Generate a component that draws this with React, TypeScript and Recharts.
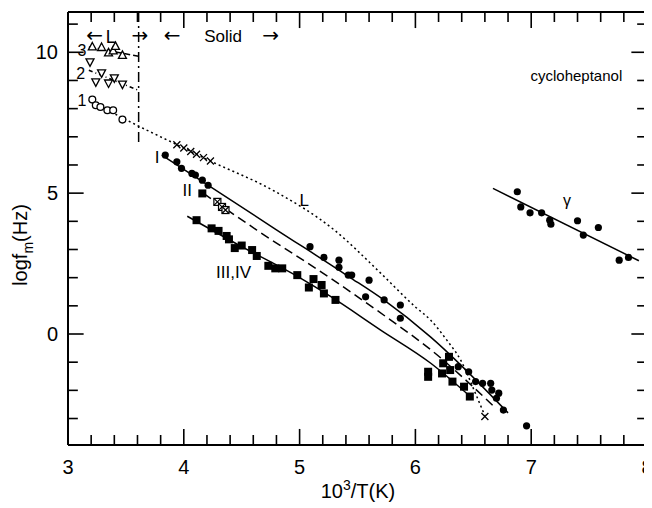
import React from 'react';
import {
  ComposedChart,
  XAxis,
  YAxis,
  Scatter,
  Line,
  ReferenceLine,
  ReferenceDot,
} from 'recharts';

const FONT = '"Liberation Sans", Arial, Helvetica, sans-serif';

// axis ticks (minor + major)
const xTicks = [3, 3.2, 3.4, 3.6, 3.8, 4, 4.2, 4.4, 4.6, 4.8, 5, 5.2, 5.4, 5.6, 5.8, 6, 6.2, 6.4, 6.6, 6.8, 7, 7.2, 7.4, 7.6, 7.8, 8];
const yTicks = [-3, -2, -1, 0, 1, 2, 3, 4, 5, 6, 7, 8, 9, 10, 11];

// liquid-side short series 1, 2, 3
const s3x = [3.21, 3.29, 3.35, 3.39, 3.41, 3.47];
const s3y = [10.19, 10.17, 9.98, 10.05, 10.21, 9.89];
const s2x = [3.19, 3.24, 3.29, 3.35, 3.4, 3.47];
const s2y = [9.66, 8.95, 9.27, 8.91, 9.09, 8.87];
const s1x = [3.21, 3.24, 3.28, 3.34, 3.39, 3.47];
const s1y = [8.32, 8.12, 8.06, 7.94, 7.94, 7.61];

// crosses on the L curve
const crossX = [3.94, 4.0, 4.06, 4.11, 4.17, 4.23, 6.6];
const crossY = [6.72, 6.6, 6.48, 6.38, 6.26, 6.14, -2.93];

// process I (filled circles)
const pIx = [3.84, 3.94, 3.98, 4.07, 4.1, 4.16, 4.21, 5.09, 5.21, 5.34, 5.34, 5.42, 5.45, 5.6, 5.57, 5.73, 5.87, 5.87,
  6.37, 6.46, 6.52, 6.58, 6.65, 6.66, 6.72, 6.7, 6.76, 6.96];
const pIy = [6.35, 6.11, 5.88, 5.7, 5.64, 5.46, 5.28, 3.1, 2.72, 2.62, 2.37, 2.09, 2.09, 1.91, 1.32, 1.21, 1.03, 0.56,
  -1.16, -1.34, -1.69, -1.75, -1.75, -1.99, -2.1, -2.28, -2.7, -3.26];

// process II
const pIIfx = [4.16];
const pIIfy = [4.99];
const pIIox = [4.29, 4.33, 4.36];
const pIIoy = [4.69, 4.51, 4.4];

// processes III, IV (filled squares)
const pIIIx = [4.11, 4.24, 4.3, 4.37, 4.39, 4.44, 4.5, 4.59, 4.63, 4.73, 4.79, 4.85, 4.98, 5.08, 5.12, 5.19, 5.21, 5.31,
  6.11, 6.11, 6.23, 6.24, 6.29, 6.3, 6.32, 6.42, 6.47];
const pIIIy = [4.04, 3.75, 3.66, 3.48, 3.36, 3.05, 3.14, 2.98, 2.77, 2.42, 2.33, 2.33, 2.09, 1.65, 1.95, 1.74, 1.44, 1.21,
  -1.34, -1.52, -1.4, -1.04, -0.81, -1.28, -1.69, -1.87, -2.22];

// gamma process
const gx = [6.88, 6.91, 6.99, 7.09, 7.16, 7.17, 7.4, 7.45, 7.58, 7.76, 7.84];
const gy = [5.05, 4.51, 4.3, 4.3, 4.04, 3.9, 4.02, 3.51, 3.78, 2.62, 2.72];

// fitted curves
const lineLx = [3.18, 3.6, 3.94, 4.23, 4.77, 5.3, 5.7, 6.0, 6.13, 6.27, 6.39, 6.53, 6.6];
const lineLy = [8.3, 7.4, 6.72, 6.14, 5.1, 3.69, 2.16, 0.96, 0.5, -0.21, -0.92, -2.22, -2.9];
const line1x = [3.81, 4.8, 5.42, 5.73, 6.13, 6.8];
const line1y = [6.35, 3.7, 2.05, 1.2, -0.1, -2.8];
const line2x = [4.17, 4.63, 5.26, 5.75, 6.13, 6.68];
const line2y = [4.99, 3.69, 2.0, 0.6, -0.55, -2.58];
const line34x = [4.03, 4.5, 5.0, 5.26, 5.7, 6.13, 6.49];
const line34y = [4.18, 3.1, 2.0, 1.35, 0.14, -1.03, -2.28];
const lineGx = [6.67, 7.93];
const lineGy = [5.17, 2.6];
const lineS3x = [3.18, 3.61];
const lineS3y = [10.19, 9.86];
const lineS2x = [3.18, 3.61];
const lineS2y = [9.36, 8.65];

const zip = (xs: number[], ys: number[]) => xs.map((x, i) => ({ x, y: ys[i] }));

const XMIN = 3;
const XMAX = 8;
const YMIN = -3.94;
const YMAX = 11.43;

const W = 644;
const H = 500;
const M = { top: 4, right: 5, bottom: 0, left: 0 };
const Y_W = 60;
const X_H = 63;
const PL = M.left + Y_W;
const PB = H - M.bottom - X_H;

// tick lengths in data units (approx 16px major / 10px minor)
const X_MAJ = 0.57;
const X_MIN = 0.355;
const Y_MAJ = 0.135;
const Y_MIN = 0.085;

const isMajor = (v: number) => Math.abs(v - Math.round(v)) < 1e-6;

const BottomTick = (p: any) => {
  const v = p.payload.value;
  if (!isMajor(v)) return <g />;
  return (
    <text x={p.x} y={PB + 29} textAnchor="middle" fontSize={20} fontFamily={FONT} fill="#000">
      {Math.round(v)}
    </text>
  );
};
const LeftTick = (p: any) => {
  const v = p.payload.value;
  if (!isMajor(v / 5)) return <g />;
  return (
    <text x={PL - 10} y={p.y + 7} textAnchor="end" fontSize={20} fontFamily={FONT} fill="#000">
      {v}
    </text>
  );
};

const dotFilled = (p: any) => <circle cx={p.cx} cy={p.cy} r={3.6} fill="#000" />;
const dotOpen = (p: any) => <circle cx={p.cx} cy={p.cy} r={3.4} fill="#fff" stroke="#000" strokeWidth={1.3} />;
const sqFilled = (p: any) => <rect x={p.cx - 4} y={p.cy - 4} width={8} height={8} fill="#000" />;
const sqOpen = (p: any) => (
  <g stroke="#000" strokeWidth={1.2} fill="#fff">
    <rect x={p.cx - 3.5} y={p.cy - 3.5} width={7} height={7} />
    <path d={`M${p.cx - 3.5},${p.cy - 3.5}L${p.cx + 3.5},${p.cy + 3.5}M${p.cx + 3.5},${p.cy - 3.5}L${p.cx - 3.5},${p.cy + 3.5}`} />
  </g>
);
const triUp = (p: any) => (
  <path d={`M${p.cx},${p.cy - 4.5}L${p.cx + 4},${p.cy + 3}L${p.cx - 4},${p.cy + 3}Z`} fill="#fff" stroke="#000" strokeWidth={1.3} />
);
const triDown = (p: any) => (
  <path d={`M${p.cx},${p.cy + 4.5}L${p.cx + 4},${p.cy - 3}L${p.cx - 4},${p.cy - 3}Z`} fill="#fff" stroke="#000" strokeWidth={1.3} />
);
const cross = (p: any) => (
  <path d={`M${p.cx - 3.5},${p.cy - 3.5}L${p.cx + 3.5},${p.cy + 3.5}M${p.cx + 3.5},${p.cy - 3.5}L${p.cx - 3.5},${p.cy + 3.5}`} stroke="#000" strokeWidth={1.3} />
);

const note = (x: number, y: number, text: string, size = 16, family = FONT) => (
  <ReferenceDot
    key={`${text}-${x}-${y}`}
    x={x}
    y={y}
    r={0}
    isFront
    ifOverflow="visible"
    shape={(p: any) => (
      <text x={p.cx} y={p.cy} textAnchor="middle" dominantBaseline="central" fontSize={size} fontFamily={family} fill="#000">
        {text}
      </text>
    )}
  />
);

const seg = (x1: number, y1: number, x2: number, y2: number, key: string, w = 1.6) => (
  <ReferenceLine
    key={key}
    segment={[{ x: x1, y: y1 }, { x: x2, y: y2 }]}
    stroke="#000"
    strokeWidth={w}
    ifOverflow="visible"
    isFront
  />
);

const curve = (xs: number[], ys: number[], dash: string | undefined, key: string, type: any = 'monotone') => (
  <Line
    key={key}
    data={zip(xs, ys)}
    dataKey="y"
    type={type}
    stroke="#000"
    strokeWidth={1.5}
    strokeDasharray={dash}
    dot={false}
    activeDot={false}
    isAnimationActive={false}
  />
);

export default function App() {
  const xMarks = xTicks.flatMap((v) => {
    const len = isMajor(v) ? X_MAJ : X_MIN;
    return [seg(v, YMIN, v, YMIN + len, `xb${v}`), seg(v, YMAX, v, YMAX - len, `xt${v}`)];
  });
  const yMarks = yTicks.flatMap((v) => {
    const len = isMajor(v / 5) ? Y_MAJ : Y_MIN;
    return [seg(XMIN, v, XMIN + len, v, `yl${v}`), seg(XMAX, v, XMAX - len, v, `yr${v}`)];
  });

  return (
    <ComposedChart width={W} height={H} margin={M}>
      <XAxis
        dataKey="x"
        type="number"
        domain={[XMIN, XMAX]}
        ticks={xTicks}
        allowDataOverflow
        height={X_H}
        tick={BottomTick}
        tickLine={false}
        axisLine={{ stroke: '#000', strokeWidth: 2 }}
        interval={0}
      />
      <YAxis
        type="number"
        domain={[YMIN, YMAX]}
        ticks={yTicks}
        allowDataOverflow
        width={Y_W}
        tick={LeftTick}
        tickLine={false}
        axisLine={{ stroke: '#000', strokeWidth: 2 }}
        interval={0}
      />

      {seg(XMIN, YMAX, XMAX, YMAX, 'frameTop', 2)}
      {seg(XMAX, YMIN, XMAX, YMAX, 'frameRight', 2)}
      {xMarks}
      {yMarks}

      <ReferenceLine
        segment={[{ x: 3.61, y: YMAX }, { x: 3.61, y: 6.7 }]}
        stroke="#000"
        strokeWidth={1.5}
        strokeDasharray="10 4 2 4"
        ifOverflow="visible"
      />

      {curve(lineLx, lineLy, '2 3', 'L')}
      {curve(line1x, line1y, undefined, 'I')}
      {curve(line2x, line2y, '9 5', 'II')}
      {curve(line34x, line34y, undefined, 'III')}
      {curve(lineGx, lineGy, undefined, 'g', 'linear')}
      {curve(lineS3x, lineS3y, '6 3', 's3', 'linear')}
      {curve(lineS2x, lineS2y, '4 3 1 3', 's2', 'linear')}

      <Scatter data={zip(s3x, s3y)} dataKey="y" shape={triUp} isAnimationActive={false} />
      <Scatter data={zip(s2x, s2y)} dataKey="y" shape={triDown} isAnimationActive={false} />
      <Scatter data={zip(s1x, s1y)} dataKey="y" shape={dotOpen} isAnimationActive={false} />
      <Scatter data={zip(crossX, crossY)} dataKey="y" shape={cross} isAnimationActive={false} />
      <Scatter data={zip(pIx, pIy)} dataKey="y" shape={dotFilled} isAnimationActive={false} />
      <Scatter data={zip(pIIfx, pIIfy)} dataKey="y" shape={sqFilled} isAnimationActive={false} />
      <Scatter data={zip(pIIox, pIIoy)} dataKey="y" shape={sqOpen} isAnimationActive={false} />
      <Scatter data={zip(pIIIx, pIIIy)} dataKey="y" shape={sqFilled} isAnimationActive={false} />
      <Scatter data={zip(gx, gy)} dataKey="y" shape={dotFilled} isAnimationActive={false} />

      {note(3.23, 10.6, '←', 20, '"DejaVu Sans", sans-serif')}
      {note(3.37, 10.55, 'L', 18)}
      {note(3.62, 10.6, '→', 20, '"DejaVu Sans", sans-serif')}
      {note(3.9, 10.6, '←', 20, '"DejaVu Sans", sans-serif')}
      {note(4.34, 10.55, 'Solid', 17)}
      {note(4.75, 10.6, '→', 20, '"DejaVu Sans", sans-serif')}
      {note(3.12, 10.05, '3')}
      {note(3.11, 9.25, '2')}
      {note(3.12, 8.28, '1')}
      {note(7.39, 9.18, 'cycloheptanol', 15)}
      {note(7.31, 4.75, 'γ', 16)}
      {note(5.04, 4.75, 'L', 17)}
      {note(3.77, 6.28, 'I', 17)}
      {note(4.03, 5.1, 'II', 17)}
      {note(4.43, 2.2, 'III,IV', 17)}

      <text x={350} y={490} textAnchor="middle" fontSize={20} fontFamily={FONT} fill="#000">
        10<tspan dy={-8} fontSize={14}>3</tspan>
        <tspan dy={8}>/T(K)</tspan>
      </text>
      <text
        transform="translate(19,237) rotate(-90)"
        textAnchor="middle"
        fontSize={20}
        fontFamily={FONT}
        fill="#000"
      >
        logf<tspan dy={6} fontSize={14}>m</tspan>
        <tspan dy={-6}>(Hz)</tspan>
      </text>
    </ComposedChart>
  );
}
